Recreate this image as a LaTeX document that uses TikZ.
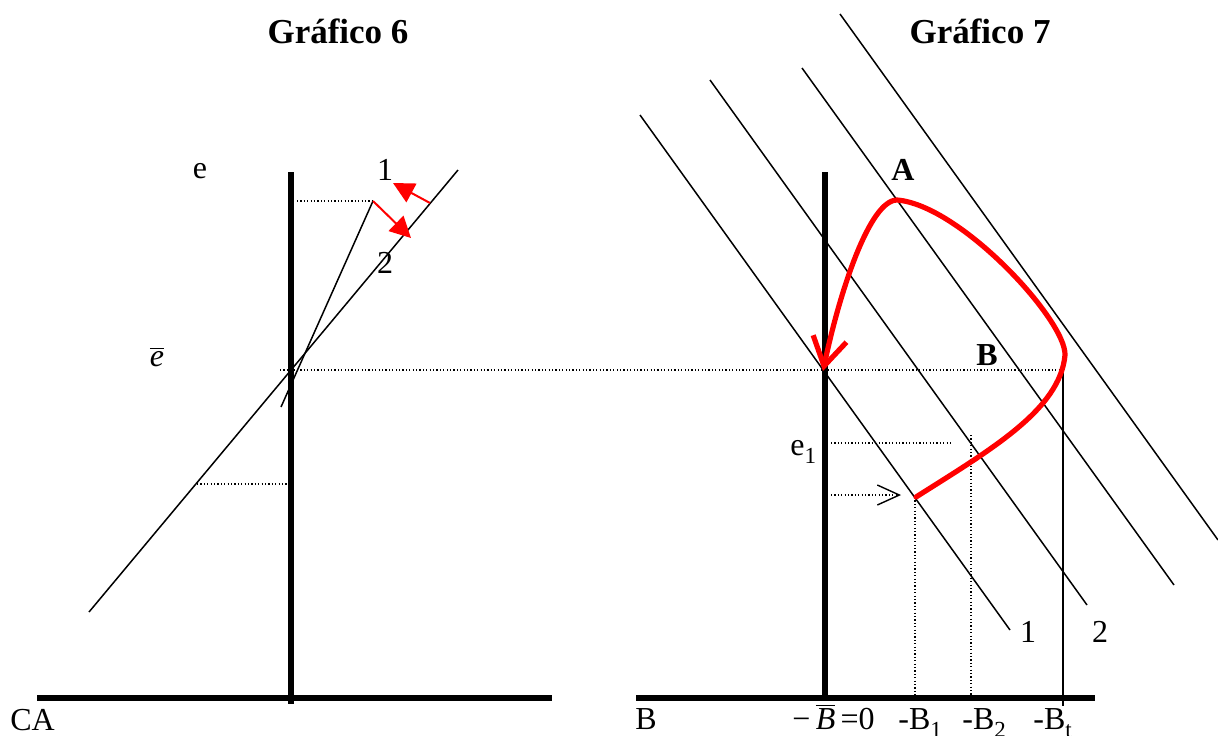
\documentclass[tikz,border=0pt]{standalone}
\usepackage{fontspec}
\setmainfont{Liberation Serif}
\usetikzlibrary{arrows.meta}
\newcommand{\mysub}[1]{\raisebox{-0.25em}{\fontsize{11.5}{12}\selectfont #1}}
\begin{document}
\begin{tikzpicture}[x=0.5pt,y=-0.5pt,
  axis/.style={line width=3pt},
  thinline/.style={line width=0.75pt},
  dots/.style={line width=0.6pt, dash pattern=on 0.6pt off 1.1pt},
  redpath/.style={red, line width=2.6pt},
  redarrow/.style={red, line width=1pt, -{Triangle[length=10.5pt,width=10.5pt]}},
  lbl/.style={font=\fontsize{16}{18}\selectfont, inner sep=0pt, anchor=base},
  ttl/.style={font=\bfseries\fontsize{17.5}{20}\selectfont, inner sep=0pt, anchor=base},
]
\useasboundingbox (0,0) rectangle (1218,735);

% titles
\node[ttl] (t6) at (338,43) {Gráfico 6};
\node[ttl] (t7) at (980,43) {Gráfico 7};

% ---------- Gráfico 6 ----------
\coordinate (ax1l) at (37,698);
\coordinate (ax1r) at (552,698);
\coordinate (ay1t) at (291,172);
\coordinate (ay1b) at (291,704);
\draw[axis] (ax1l) -- (ax1r);
\draw[axis] (ay1t) -- (ay1b);

\coordinate (lg1) at (89,612);
\coordinate (lg2) at (458,170);
\draw[thinline] (lg1) -- (lg2);
\coordinate (st1) at (281,407);
\coordinate (st2) at (373,201);
\draw[thinline] (st1) -- (st2);

\coordinate (d1a) at (297,201);
\draw[dots] (d1a) -- (st2);
\coordinate (d2a) at (197,484);
\coordinate (d2b) at (288,484);
\draw[dots] (d2a) -- (d2b);

\coordinate (r1s) at (430,203);
\coordinate (r1e) at (393,183);
\draw[redarrow] (r1s) -- (r1e);
\coordinate (r2e) at (411,238);
\draw[redarrow] (st2) -- (r2e);

\node[lbl] (le) at (200,178) {e};
\node[lbl] (l1) at (385,180) {1};
\node[lbl] (l2) at (385,273) {2};
\node[lbl] (lebar) at (157,366) {$\overline{\mbox{\itshape e}}$};
\node[lbl, anchor=base west] (lca) at (10,730) {CA};

% long dotted level line
\coordinate (ebl) at (280,370);
\coordinate (ebr) at (1063,370);
\draw[dots] (ebl) -- (ebr);

% ---------- Gráfico 7 ----------
\coordinate (ax2l) at (636,698);
\coordinate (ax2r) at (1095,698);
\coordinate (ay2t) at (825,172);
\coordinate (ay2b) at (825,701);
\draw[axis] (ax2l) -- (ax2r);
\draw[axis] (ay2t) -- (ay2b);

\coordinate (p1a) at (640,115);  \coordinate (p1b) at (1010,630);
\coordinate (p2a) at (710,80);   \coordinate (p2b) at (1087,605);
\coordinate (p3a) at (802,68);   \coordinate (p3b) at (1174,585);
\coordinate (p4a) at (840,14);   \coordinate (p4b) at (1218,540);
\draw[thinline] (p1a) -- (p1b);
\draw[thinline] (p2a) -- (p2b);
\draw[thinline] (p3a) -- (p3b);
\draw[thinline] (p4a) -- (p4b);

\coordinate (vt) at (1063,370);
\coordinate (vb) at (1063,706);
\draw[thinline] (vt) -- (vb);

\coordinate (b1t) at (915,497); \coordinate (b1b) at (915,697);
\coordinate (b2t) at (971,435); \coordinate (b2b) at (971,697);
\draw[dots] (b1t) -- (b1b);
\draw[dots] (b2t) -- (b2b);

\coordinate (e1a) at (831,443); \coordinate (e1b) at (953,443);
\draw[dots] (e1a) -- (e1b);
\coordinate (e2a) at (831,495); \coordinate (e2b) at (901,495);
\draw[dots, -{Straight Barb[length=11pt,width=10pt,line width=0.7pt]}] (e2a) -- (e2b);

% red adjustment path
\coordinate (rs) at (916,497);
\coordinate (rr) at (1065,355);
\coordinate (rA) at (897,200);
\coordinate (re) at (823,371);
\draw[redpath, line cap=round, -{Straight Barb[length=14pt,width=17pt]}]
  (rs) .. controls (990,450) and (1060,410) .. (rr)
       .. controls (1066,320) and (960,205) .. (rA)
       .. controls (870,200) and (840,290) .. (re);

\node[lbl, font=\bfseries\fontsize{16}{18}\selectfont] (lA) at (903,180) {A};
\node[lbl, font=\bfseries\fontsize{16}{18}\selectfont] (lB) at (987,365) {B};
\node[lbl, anchor=base west] (le1) at (790,455) {e\mysub{1}};
\node[lbl] (r1) at (1028,642) {1};
\node[lbl] (r2) at (1100,642) {2};

\node[lbl, anchor=base west] (lb) at (635,729) {B};
\node[lbl, anchor=base west] (lb0) at (792,729) {−\,$\overline{\mbox{\itshape B}}$\,=0};
\node[lbl, anchor=base west] (lb1) at (898,729) {-B\mysub{1}};
\node[lbl, anchor=base west] (lb2) at (962,729) {-B\mysub{2}};
\node[lbl, anchor=base west] (lbt) at (1033,729) {-B\mysub{t}};
\end{tikzpicture}
\end{document}
